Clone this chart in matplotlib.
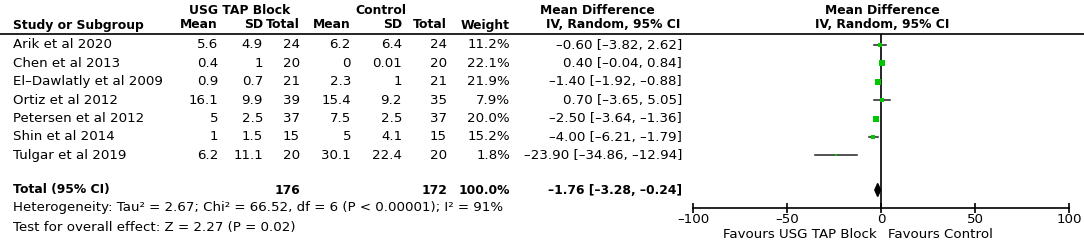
import numpy as np
import matplotlib.pyplot as plt
from matplotlib.patches import Polygon

# ---- data ----
studies = ['Arik et al 2020', 'Chen et al 2013', 'El-Dawlatly et al 2009', 'Ortiz et al 2012',
           'Petersen et al 2012', 'Shin et al 2014', 'Tulgar et al 2019']
tap_mean = ['5.6', '0.4', '0.9', '16.1', '5', '1', '6.2']
tap_sd = ['4.9', '1', '0.7', '9.9', '2.5', '1.5', '11.1']
tap_n = [24, 20, 21, 39, 37, 15, 20]
ctl_mean = ['6.2', '0', '2.3', '15.4', '7.5', '5', '30.1']
ctl_sd = ['6.4', '0.01', '1', '9.2', '2.5', '4.1', '22.4']
ctl_n = [24, 20, 21, 35, 37, 15, 20]
weight = [11.2, 22.1, 21.9, 7.9, 20.0, 15.2, 1.8]
md = [-0.60, 0.40, -1.40, 0.70, -2.50, -4.00, -23.90]
ci_lo = [-3.82, -0.04, -1.92, -3.65, -3.64, -6.21, -34.86]
ci_hi = [2.62, 0.84, -0.88, 5.05, -1.36, -1.79, -12.94]
total_md, total_lo, total_hi = -1.76, -3.28, -0.24
xticks = [-100, -50, 0, 50, 100]

W, H = 1084, 242
fig = plt.figure(figsize=(W / 100, H / 100), dpi=100)
plt.rcParams['font.family'] = 'DejaVu Sans'
fs = 9.6   # regular text
fsb = 8.9  # bold text
DASH = '\u2013'  # the source uses a short en-dash style minus

# text layer in pixel coordinates
tx = fig.add_axes([0, 0, 1, 1])
tx.set_xlim(0, W)
tx.set_ylim(H, 0)
tx.axis('off')

row_y = [45 + i * 18.4 for i in range(len(studies))]
total_y = 190


def t(x, y, s, ha='right', bold=False):
    tx.text(x, y, s, ha=ha, va='center', fontsize=fsb if bold else fs,
            fontweight='bold' if bold else 'normal')


def ci_str(m, lo, hi):
    return f'{m:.2f} [{lo:.2f}, {hi:.2f}]'.replace('-', DASH)


# headers
t(240, 10, 'USG TAP Block', ha='center', bold=True)
t(381, 10, 'Control', ha='center', bold=True)
t(597, 10, 'Mean Difference', ha='center', bold=True)
t(882, 10, 'Mean Difference', ha='center', bold=True)
t(13, 25, 'Study or Subgroup', ha='left', bold=True)
cols = [('Mean', 218), ('SD', 263), ('Total', 300), ('Mean', 351), ('SD', 402),
        ('Total', 447), ('Weight', 510)]
for lab, x in cols:
    t(x, 25, lab, bold=True)
t(613, 25, 'IV, Random, 95% CI', ha='center', bold=True)
t(882, 25, 'IV, Random, 95% CI', ha='center', bold=True)
tx.plot([0, W], [34, 34], color='black', lw=1.2)

# study rows
for i, y in enumerate(row_y):
    t(13, y, studies[i].replace('-', DASH), ha='left')
    t(218, y, tap_mean[i])
    t(263, y, tap_sd[i])
    t(300, y, str(tap_n[i]))
    t(351, y, ctl_mean[i])
    t(402, y, ctl_sd[i])
    t(447, y, str(ctl_n[i]))
    t(510, y, f'{weight[i]:.1f}%')
    t(682, y, ci_str(md[i], ci_lo[i], ci_hi[i]))

# total row
t(13, total_y, 'Total (95% CI)', ha='left', bold=True)
t(300, total_y, str(sum(tap_n)), bold=True)
t(447, total_y, str(sum(ctl_n)), bold=True)
t(510, total_y, '100.0%', bold=True)
t(682, total_y, ci_str(total_md, total_lo, total_hi), bold=True)
t(13, 208, 'Heterogeneity: Tau\u00b2 = 2.67; Chi\u00b2 = 66.52, df = 6 (P < 0.00001); I\u00b2 = 91%', ha='left')
t(13, 227, 'Test for overall effect: Z = 2.27 (P = 0.02)', ha='left')

# forest panel: x from -100..100 spans px 693..1069, y rows in same pixel scale
x0, x1 = 693, 1069
ytop, ybot = 34, 208
ax = fig.add_axes([x0 / W, 1 - ybot / H, (x1 - x0) / W, (ybot - ytop) / H])
ax.set_xlim(-100, 100)
ax.set_ylim(ybot, ytop)
ax.patch.set_alpha(0)
for s in ['top', 'left', 'right']:
    ax.spines[s].set_visible(False)
ax.spines['bottom'].set_linewidth(1.2)
ax.set_yticks([])
ax.set_xticks(xticks)
ax.set_xticklabels([str(v).replace('-', DASH) for v in xticks], fontsize=fs)
ax.tick_params(axis='x', direction='inout', length=7, width=1.2, pad=0)
ax.axvline(0, color='black', lw=1.2)

for i, y in enumerate(row_y):
    ax.plot([ci_lo[i], ci_hi[i]], [y, y], color='#222222', lw=1.1)
    side_px = max(1.2 * np.sqrt(weight[i]), 2.6)
    ax.plot(md[i], y, 's', color='#00c800', ms=side_px * 72 / 100, mew=0, zorder=3)

dh = 6.5
ax.add_patch(Polygon([[total_lo, total_y], [total_md, total_y - dh],
                      [total_hi, total_y], [total_md, total_y + dh]],
                     closed=True, color='black'))

tx.text(877, 235, 'Favours USG TAP Block', ha='right', va='center', fontsize=fs)
tx.text(888, 235, 'Favours Control', ha='left', va='center', fontsize=fs)

fig.savefig('out.png', dpi=100)
